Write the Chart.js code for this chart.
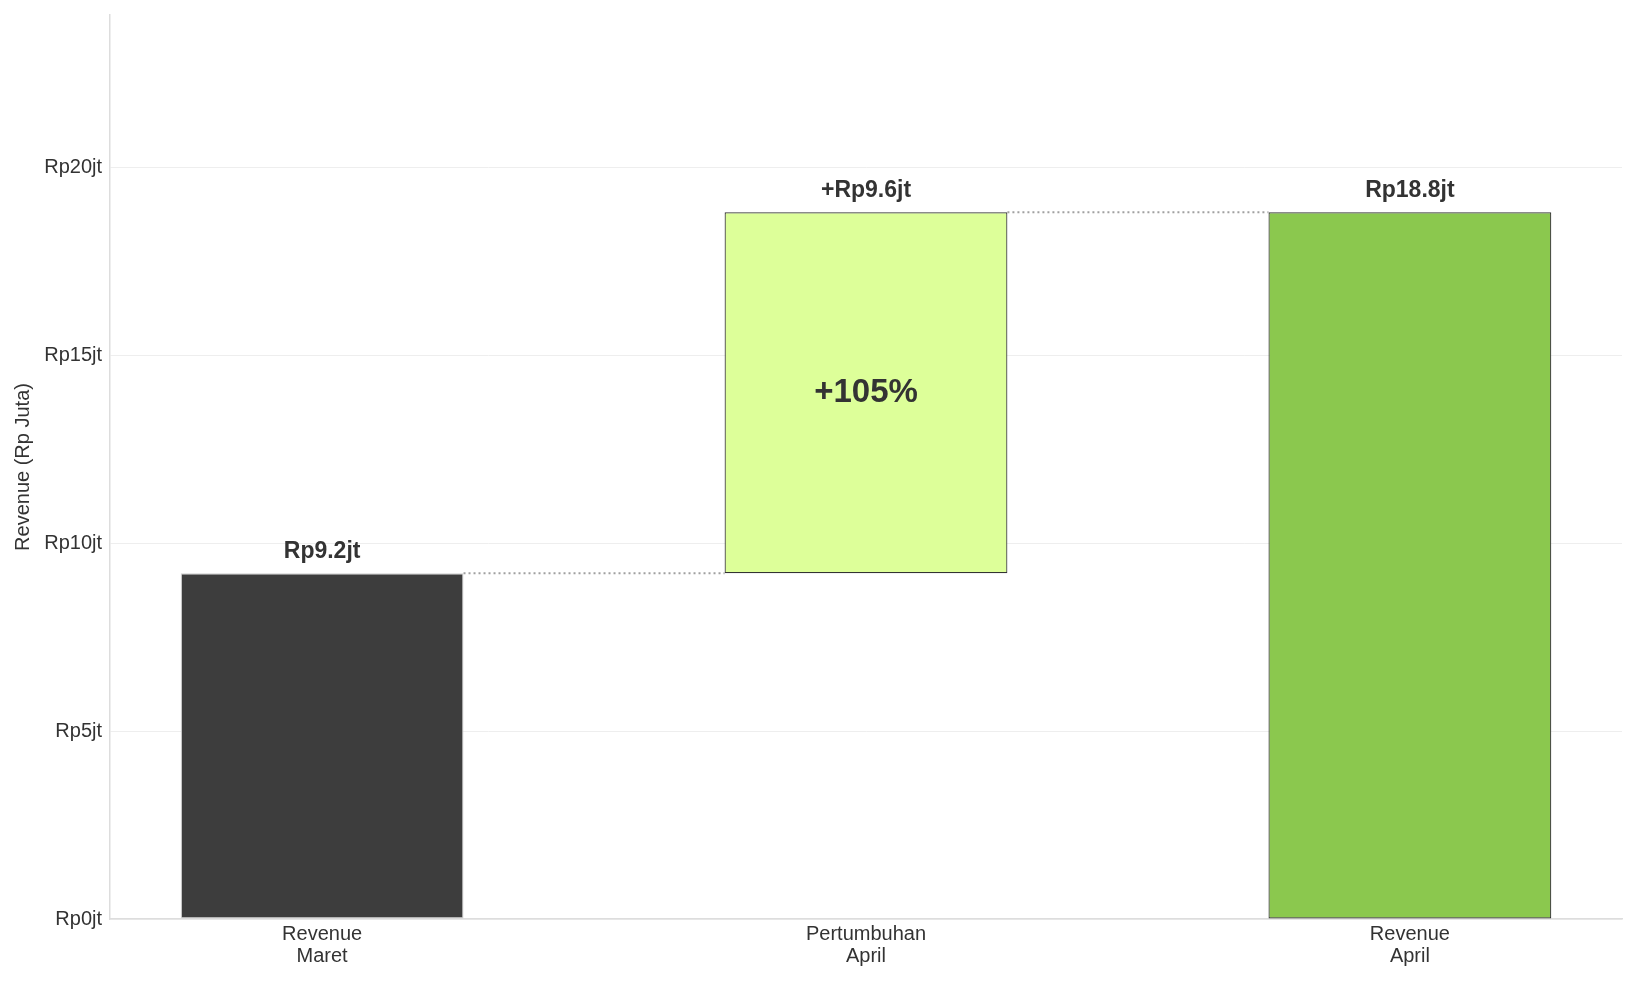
<!DOCTYPE html>
<html>
<head>
<meta charset="utf-8">
<script src="https://cdn.jsdelivr.net/npm/chart.js@4.4.1/dist/chart.umd.min.js"></script>
<style>
  html, body { margin: 0; padding: 0; background: #ffffff; }
  #wrap { width: 1637px; height: 981px; }
</style>
</head>
<body>
<div id="wrap"><canvas id="waterfall"></canvas></div>
<script>
const categories = [['Revenue', 'Maret'], ['Pertumbuhan', 'April'], ['Revenue', 'April']];
const barStarts = [0, 9.2, 0];
const barEnds = [9.2, 18.8, 18.8];
const valueLabels = ['Rp9.2jt', '+Rp9.6jt', 'Rp18.8jt'];
const growthLabel = '+105%';
const barColors = ['#3d3d3d', '#ddff99', '#8bc84e'];
const edgeColors = ['#d0d0d0', '#333333', '#333333'];
const connectorLevels = [9.2, 18.8];

const barHalf = 0.26;
const fontFamily = '"Liberation Sans", Arial, sans-serif';

const barData = categories.map((c, i) => ({ x: i, y: [barStarts[i], barEnds[i]] }));
const connectors = connectorLevels.map((lvl, i) => ({
    type: 'line',
    data: [{ x: i + barHalf, y: lvl }, { x: i + 1 - barHalf, y: lvl }],
    borderColor: '#a0a0a0',
    borderWidth: 2,
    borderDash: [2, 3],
    pointRadius: 0,
    fill: false,
    order: 0
}));

const labelPlugin = {
    id: 'labelPlugin',
    afterDatasetsDraw(chart) {
        const ctx = chart.ctx;
        const meta = chart.getDatasetMeta(0);
        ctx.save();
        ctx.fillStyle = '#333333';
        ctx.textAlign = 'center';
        ctx.textBaseline = 'bottom';
        ctx.font = 'bold 23px ' + fontFamily;
        meta.data.forEach((bar, i) => {
            ctx.fillText(valueLabels[i], bar.x, bar.y - 10);
        });
        const mid = meta.data[1];
        ctx.font = 'bold 33px ' + fontFamily;
        ctx.textBaseline = 'middle';
        ctx.fillText(growthLabel, mid.x, (mid.y + mid.base) / 2);
        ctx.restore();
    }
};

new Chart(document.getElementById('waterfall'), {
    type: 'bar',
    data: {
        datasets: [{
            data: barData,
            backgroundColor: barColors,
            borderColor: edgeColors,
            borderWidth: 1.2,
            borderSkipped: false,
            barPercentage: barHalf * 2,
            categoryPercentage: 1,
            order: 1
        }, ...connectors]
    },
    options: {
        responsive: true,
        maintainAspectRatio: false,
        animation: false,
        layout: { padding: { top: 15, right: 15, left: 0, bottom: 0 } },
        plugins: {
            legend: { display: false },
            tooltip: { enabled: false }
        },
        scales: {
            x: {
                type: 'linear',
                offset: false,
                min: -0.39,
                max: 2.39,
                grid: { display: false, drawTicks: false, offset: false },
                border: { color: '#dddddd', width: 1.5 },
                ticks: {
                    stepSize: 1,
                    includeBounds: false,
                    autoSkip: false,
                    maxRotation: 0,
                    padding: 4,
                    color: '#333333',
                    font: { family: fontFamily, size: 20, lineHeight: 1.1 },
                    callback: v => categories[v] || ''
                },
                afterFit(scale) { scale.height = 62; }
            },
            y: {
                min: 0,
                max: 24.05,
                grid: { color: '#eeeeee', lineWidth: 1, drawTicks: false },
                border: { color: '#dddddd', width: 1.5 },
                ticks: {
                    stepSize: 5,
                    includeBounds: false,
                    padding: 8,
                    color: '#333333',
                    font: { family: fontFamily, size: 20 },
                    callback: v => 'Rp' + v + 'jt'
                },
                title: {
                    display: true,
                    text: 'Revenue (Rp Juta)',
                    color: '#333333',
                    font: { family: fontFamily, size: 20 },
                    padding: { top: 11, bottom: 2 }
                },
                afterFit(scale) {
                    scale.width = 110;
                    scale.paddingTop = 0;
                }
            }
        }
    },
    plugins: [labelPlugin]
});
</script>
</body>
</html>
